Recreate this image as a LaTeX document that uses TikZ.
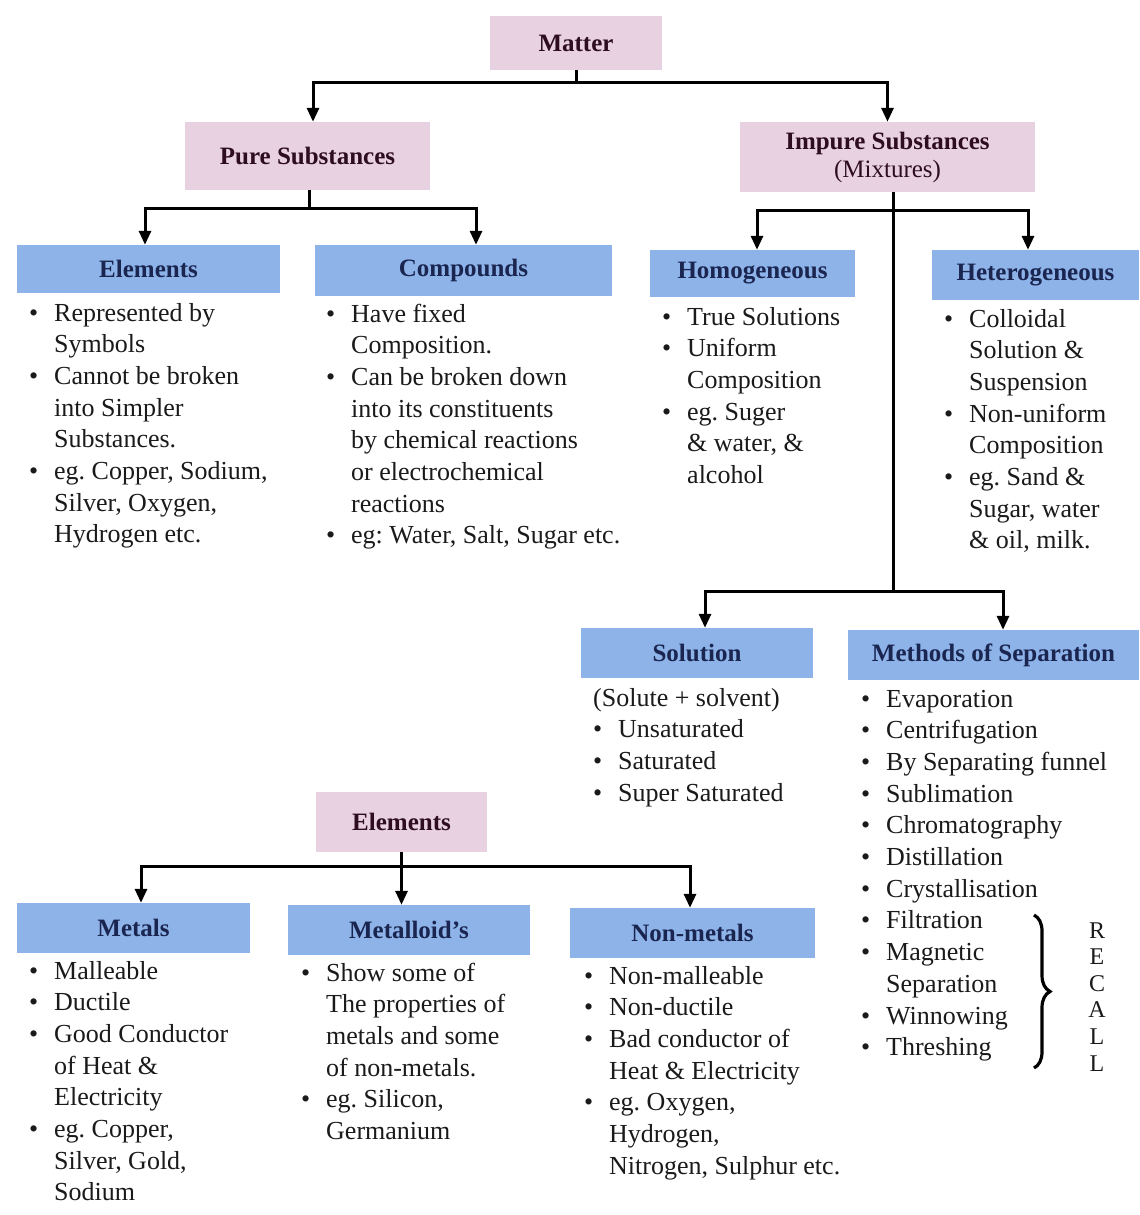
\documentclass[tikz,border=0pt]{standalone}
\usepackage{fontspec}
\setmainfont{Liberation Serif}
\usetikzlibrary{arrows.meta,calc,decorations.pathreplacing}
\definecolor{bluec}{HTML}{8DB3E9}
\definecolor{pinkc}{HTML}{E8D2E2}
\definecolor{navy}{HTML}{1A2550}
\definecolor{plumtext}{HTML}{2E0C22}
\definecolor{bodytext}{HTML}{1A1A1A}
\newlength\bw \setlength\bw{25pt}
\newcommand\bl{\makebox[\bw][l]{\textbullet}}
\newcommand\ct{\hspace*{\bw}}
\newcommand\hdfont{\fontsize{25}{30}\selectfont\bfseries}
\newcommand\txfont{\fontsize{26}{31.7}\selectfont}
\newcommand\lst[1]{\begin{tabular}[t]{@{}l@{}}#1\end{tabular}}
\frenchspacing
\begin{document}
\begin{tikzpicture}[x=1pt,y=-1pt,
  pinkbox/.style={fill=pinkc, draw=none, inner sep=0, font=\hdfont, text=plumtext, align=center},
  bluebox/.style={fill=bluec, draw=none, inner sep=0, font=\hdfont, text=navy},
  listtext/.style={anchor=base west, inner sep=0, font=\txfont, text=bodytext},
  conn/.style={line width=3pt, black},
  arr/.style={conn, -{Triangle[length=14pt,width=12pt]}}]
\fill[white] (0,0) rectangle (1140,1215);
\useasboundingbox (0,0) rectangle (1140,1215);

% pink boxes
\node[pinkbox, minimum width=172, minimum height=54] (matter) at (576,43) {Matter};
\node[pinkbox, minimum width=245, minimum height=68] (pure) at (307.5,156) {Pure Substances};
\node[pinkbox, minimum width=295, minimum height=70] (impure) at (887.5,157)
  {Impure Substances\\[-2pt]{\mdseries (Mixtures)}};
\node[pinkbox, minimum width=171, minimum height=60] (elem2) at (401.5,822) {Elements};

% blue boxes
\node[bluebox, minimum width=263, minimum height=48] (elem) at (148.5,269) {Elements};
\node[bluebox, minimum width=297, minimum height=51] (comp) at (463.5,270.5) {Compounds};
\node[bluebox, minimum width=205, minimum height=47] (homo) at (752.5,273.5) {Homogeneous};
\node[bluebox, minimum width=207, minimum height=50] (hetero) at (1035.5,275) {Heterogeneous};
\node[bluebox, minimum width=232, minimum height=50] (sol) at (697,653) {Solution};
\node[bluebox, minimum width=291, minimum height=50] (meth) at (993.5,655) {Methods of Separation};
\node[bluebox, minimum width=233, minimum height=50] (metals) at (133.5,928) {Metals};
\node[bluebox, minimum width=242, minimum height=50] (metalloid) at (409,930) {Metalloid's};
\node[bluebox, minimum width=245, minimum height=50] (nonmet) at (692.5,933) {Non-metals};

% connectors
\coordinate (mb) at (matter.south);
\draw[arr] (mb) -- ++(0,12) -| ($(pure.north)+(5.5,0)$);
\draw[arr] (mb) -- ++(0,12) -| (impure.north);

\coordinate (pb) at ($(pure.south)+(2,0)$);
\draw[arr] (pb) -- ++(0,18) -| ($(elem.north)+(-3.5,0)$);
\draw[arr] (pb) -- ++(0,18) -| ($(comp.north)+(12.5,0)$);

\coordinate (ib) at ($(impure.south)+(5.5,0)$);
\draw[arr] (ib) -- ++(0,18) -| ($(homo.north)+(4.5,0)$);
\draw[arr] (ib) -- ++(0,18) -| ($(hetero.north)+(-7.5,0)$);
\draw[arr] (ib) -- ++(0,399) -| ($(sol.north)+(8,0)$);
\draw[arr] (ib) -- ++(0,399) -| ($(meth.north)+(9.5,0)$);

\coordinate (eb) at (elem2.south);
\draw[arr] (eb) -- ++(0,14) -| ($(metals.north)+(7.5,0)$);
\draw[arr] (eb) -- (metalloid.north -| eb);
\draw[arr] (eb) -- ++(0,14) -| ($(nonmet.north)+(-2.5,0)$);

% lists
\node[listtext] (elemL) at (29,321) {\lst{\bl Represented by\\ \ct Symbols\\ \bl Cannot be broken\\ \ct into Simpler\\ \ct Substances.\\ \bl eg. Copper, Sodium,\\ \ct Silver, Oxygen,\\ \ct Hydrogen etc.}};
\node[listtext] (compL) at (326,322) {\lst{\bl Have fixed\\ \ct Composition.\\ \bl Can be broken down\\ \ct into its constituents\\ \ct by chemical reactions\\ \ct or electrochemical\\ \ct reactions\\ \bl eg: Water, Salt, Sugar etc.}};
\node[listtext] (homoL) at (662,325) {\lst{\bl True Solutions\\ \bl Uniform\\ \ct Composition\\ \bl eg. Suger\\ \ct \& water, \&\\ \ct alcohol}};
\node[listtext] (heteroL) at (944,327) {\lst{\bl Colloidal\\ \ct Solution \&\\ \ct Suspension\\ \bl Non-uniform\\ \ct Composition\\ \bl eg. Sand \&\\ \ct Sugar, water\\ \ct \& oil, milk.}};
\node[listtext] (solL) at (593,706) {\lst{(Solute + solvent)\\ \bl Unsaturated\\ \bl Saturated\\ \bl Super Saturated}};
\node[listtext] (methL) at (861,707) {\lst{\bl Evaporation\\ \bl Centrifugation\\ \bl By Separating funnel\\ \bl Sublimation\\ \bl Chromatography\\ \bl Distillation\\ \bl Crystallisation\\ \bl Filtration\\ \bl Magnetic\\ \ct Separation\\ \bl Winnowing\\ \bl Threshing}};
\node[listtext] (metalsL) at (29,979) {\lst{\bl Malleable\\ \bl Ductile\\ \bl Good Conductor\\ \ct of Heat \&\\ \ct Electricity\\ \bl eg. Copper,\\ \ct Silver, Gold,\\ \ct Sodium}};
\node[listtext] (metalloidL) at (301,981) {\lst{\bl Show some of\\ \ct The properties of\\ \ct metals and some\\ \ct of non-metals.\\ \bl eg. Silicon,\\ \ct Germanium}};
\node[listtext] (nonmetL) at (584,984) {\lst{\bl Non-malleable\\ \bl Non-ductile\\ \bl Bad conductor of\\ \ct Heat \& Electricity\\ \bl eg. Oxygen,\\ \ct Hydrogen,\\ \ct Nitrogen, Sulphur etc.}};

% recall brace
\coordinate (brtop) at (1034,915);
\coordinate (brbot) at (1034,1068);
\draw[line width=3.2pt, black, decorate, decoration={brace, amplitude=16pt}] (brtop) -- (brbot);
\node[anchor=base, inner sep=0, font=\fontsize{24}{26.6}\selectfont, text=bodytext] (recall) at (1097,938)
  {\begin{tabular}[t]{@{}c@{}}R\\E\\C\\A\\L\\L\end{tabular}};
\end{tikzpicture}
\end{document}
